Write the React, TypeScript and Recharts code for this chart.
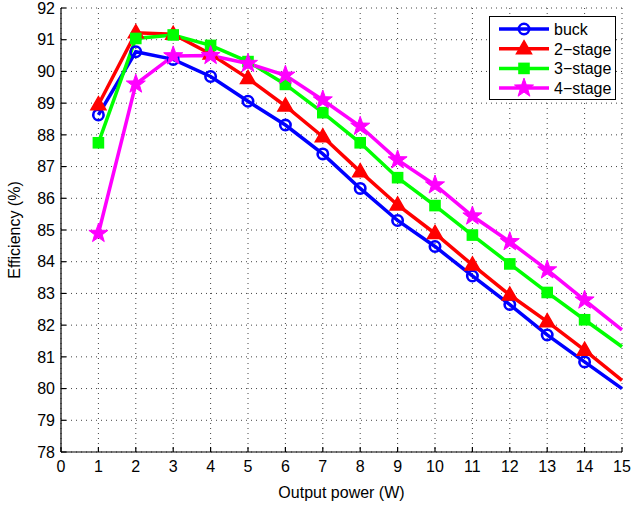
import React from 'react';
import { LineChart, Line, XAxis, YAxis, CartesianGrid, Legend } from 'recharts';

const power = [1, 2, 3, 4, 5, 6, 7, 8, 9, 10, 11, 12, 13, 14, 15];
const buck = [88.63, 90.62, 90.38, 89.84, 89.06, 88.31, 87.4, 86.31, 85.3, 84.48, 83.55, 82.65, 81.69, 80.84, 80.0];
const stage2 = [88.95, 91.22, 91.17, 90.55, 89.78, 88.91, 87.94, 86.84, 85.79, 84.89, 83.9, 82.95, 82.11, 81.21, 80.26];
const stage3 = [87.75, 91.04, 91.15, 90.82, 90.31, 89.59, 88.7, 87.75, 86.65, 85.77, 84.84, 83.93, 83.03, 82.17, 81.32];
const stage4 = [84.89, 89.6, 90.49, 90.5, 90.25, 89.88, 89.1, 88.27, 87.21, 86.42, 85.44, 84.63, 83.74, 82.79, 81.85];
const xTicks = [0, 1, 2, 3, 4, 5, 6, 7, 8, 9, 10, 11, 12, 13, 14, 15];
const yTicks = [78, 79, 80, 81, 82, 83, 84, 85, 86, 87, 88, 89, 90, 91, 92];
const seriesNames = ['buck', '2\u2212stage', '3\u2212stage', '4\u2212stage'];
const markedPoints = [1, 2, 3, 4, 5, 6, 7, 8, 9, 10, 11, 12, 13, 14];

const data = power.map((p, i) => ({ x: p, buck: buck[i], s2: stage2[i], s3: stage3[i], s4: stage4[i] }));

const BLUE = '#0000ff';
const RED = '#ff0000';
const GREEN = '#00ff00';
const MAGENTA = '#ff00ff';
const FONT = '"Liberation Sans", Arial, Helvetica, sans-serif';

function starPath(cx: number, cy: number, R: number, r: number) {
  let d = '';
  for (let k = 0; k < 10; k++) {
    const rad = k % 2 === 0 ? R : r;
    const a = -Math.PI / 2 + (k * Math.PI) / 5;
    d += (k === 0 ? 'M' : 'L') + (cx + rad * Math.cos(a)).toFixed(2) + ',' + (cy + rad * Math.sin(a)).toFixed(2);
  }
  return d + 'Z';
}

function Marker({ kind, cx, cy }: { kind: number; cx: number; cy: number }) {
  if (kind === 0) return <circle cx={cx} cy={cy} r={5.2} fill="none" stroke={BLUE} strokeWidth={2.6} />;
  if (kind === 1)
    return (
      <path
        d={`M${cx},${cy - 8} L${cx + 7.5},${cy + 5} L${cx - 7.5},${cy + 5} Z`}
        fill={RED}
        stroke={RED}
        strokeWidth={1.5}
        strokeLinejoin="miter"
      />
    );
  if (kind === 2)
    return <rect x={cx - 4.6} y={cy - 4.6} width={9.2} height={9.2} fill={GREEN} stroke={GREEN} strokeWidth={2.4} />;
  return <path d={starPath(cx, cy, 10, 4)} fill={MAGENTA} stroke={MAGENTA} strokeWidth={1} />;
}

const makeDot = (kind: number) => (props: any) => {
  const { cx, cy, payload, index } = props;
  if (cx == null || cy == null || !markedPoints.includes(payload.x)) return <g key={`d${kind}-${index}`} />;
  return (
    <g key={`d${kind}-${index}`}>
      <Marker kind={kind} cx={cx} cy={cy} />
    </g>
  );
};

const legendColors = [BLUE, RED, GREEN, MAGENTA];

const renderLegend = () => (
  <svg width={128} height={85} style={{ display: 'block' }}>
    <rect x={0.5} y={0.5} width={126} height={83} fill="#fff" stroke="#000" strokeWidth={1} />
    {seriesNames.map((n, i) => {
      const y = 13 + i * 19.7;
      return (
        <g key={n}>
          <line x1={10} x2={60} y1={y} y2={y} stroke={legendColors[i]} strokeWidth={3.5} />
          <Marker kind={i} cx={35} cy={y} />
          <text x={65} y={y + 5.8} fontSize={16} fontFamily={FONT} fill="#000">
            {n}
          </text>
        </g>
      );
    })}
  </svg>
);

export default function App() {
  return (
    <div style={{ position: 'absolute', left: 0, top: 0, width: 631, height: 506, background: '#fff' }}>
      <LineChart width={631} height={506} data={data} margin={{ top: 8, right: 9, left: 0, bottom: 0 }}>
        <CartesianGrid stroke="#444" strokeDasharray="1 4" strokeWidth={1} />
        <XAxis
          type="number"
          dataKey="x"
          domain={[0, 15]}
          ticks={xTicks}
          interval={0}
          height={54}
          axisLine={{ stroke: '#000', strokeWidth: 1.2 }}
          tickLine={{ stroke: '#000', strokeWidth: 1.2 }}
          tickSize={-5}
          tickMargin={14}
          tick={{ fill: '#000', fontSize: 16, fontFamily: FONT }}
          label={{ value: 'Output power (W)', position: 'insideBottom', offset: 8, fill: '#000', fontSize: 16, fontFamily: FONT }}
        />
        <YAxis
          type="number"
          domain={[78, 92]}
          ticks={yTicks}
          interval={0}
          width={61}
          axisLine={{ stroke: '#000', strokeWidth: 1.2 }}
          tickLine={{ stroke: '#000', strokeWidth: 1.2 }}
          tickSize={-5}
          tickMargin={11}
          tick={{ fill: '#000', fontSize: 16, fontFamily: FONT }}
          label={{ value: 'Efficiency (%)', angle: -90, position: 'insideLeft', offset: 14, fill: '#000', fontSize: 16, fontFamily: FONT, style: { textAnchor: 'middle' } }}
        />
        <Legend
          layout="horizontal"
          verticalAlign="middle"
          align="center"
          content={renderLegend}
          wrapperStyle={{ position: 'absolute', left: 489, top: 16, width: 128, height: 85 }}
        />
        <Line type="linear" dataKey="buck" name={seriesNames[0]} stroke={BLUE} strokeWidth={3.5} dot={makeDot(0)} activeDot={false} isAnimationActive={false} />
        <Line type="linear" dataKey="s2" name={seriesNames[1]} stroke={RED} strokeWidth={3.5} dot={makeDot(1)} activeDot={false} isAnimationActive={false} />
        <Line type="linear" dataKey="s3" name={seriesNames[2]} stroke={GREEN} strokeWidth={3.5} dot={makeDot(2)} activeDot={false} isAnimationActive={false} />
        <Line type="linear" dataKey="s4" name={seriesNames[3]} stroke={MAGENTA} strokeWidth={3.5} dot={makeDot(3)} activeDot={false} isAnimationActive={false} />
      </LineChart>
    </div>
  );
}
